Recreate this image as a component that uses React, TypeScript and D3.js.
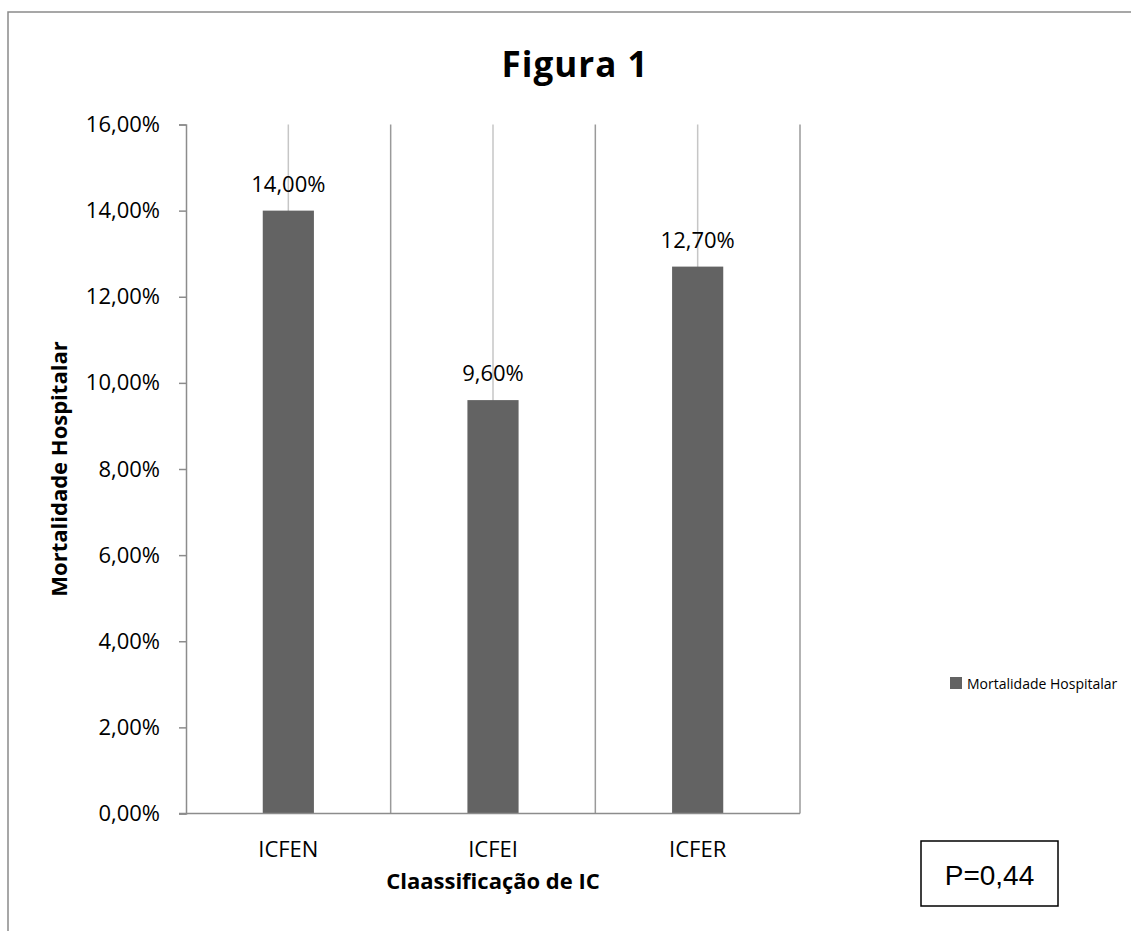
import React, { useEffect, useRef } from "react";
import * as d3 from "d3";

const categories = ["ICFEN", "ICFEI", "ICFER"];
const mortality = [0.14, 0.096, 0.127];
const yTicks = [0, 0.02, 0.04, 0.06, 0.08, 0.1, 0.12, 0.14, 0.16];
const seriesName = "Mortalidade Hospitalar";
const pValue = "P=0,44";

const fmt = (v: number) => (v * 100).toFixed(2).replace(".", ",") + "%";

export default function App() {
  const svgRef = useRef<SVGSVGElement>(null);

  useEffect(() => {
    if (!svgRef.current) return;
    const svg = d3.select(svgRef.current);
    svg.selectAll("*").remove();

    const width = 1131;
    const height = 931;
    const margin = { top: 124.5, right: 331, bottom: 117.5, left: 186 };
    const font = "'Open Sans', Lato, sans-serif";

    // outer chart frame (clipped at right/bottom like the source)
    svg.append("rect")
      .attr("x", 8).attr("y", 12)
      .attr("width", width + 20).attr("height", height + 20)
      .attr("fill", "#fff")
      .attr("stroke", "#8a8a8a")
      .attr("stroke-width", 1.5);

    const x = d3.scaleBand()
      .domain(categories)
      .range([margin.left, width - margin.right])
      .paddingInner(0)
      .paddingOuter(0);

    const y = d3.scaleLinear()
      .domain([0, 0.16])
      .range([height - margin.bottom, margin.top]);

    // title
    svg.append("text")
      .attr("x", 575).attr("y", 77)
      .attr("text-anchor", "middle")
      .attr("font-family", font)
      .attr("font-size", "35px")
      .attr("font-weight", "bold")
      .attr("letter-spacing", "1px")
      .attr("fill", "#000")
      .text("Figura 1");

    // light lines through category centers
    svg.selectAll(".center-line")
      .data(categories)
      .enter()
      .append("line")
      .attr("x1", d => x(d)! + x.bandwidth() / 2)
      .attr("x2", d => x(d)! + x.bandwidth() / 2)
      .attr("y1", y(0.16))
      .attr("y2", y(0))
      .attr("stroke", "#c6c6c6")
      .attr("stroke-width", 1.5);

    // category boundary gridlines
    svg.selectAll(".grid-line")
      .data(categories)
      .enter()
      .append("line")
      .attr("x1", d => x(d)! + x.bandwidth())
      .attr("x2", d => x(d)! + x.bandwidth())
      .attr("y1", y(0.16))
      .attr("y2", y(0))
      .attr("stroke", "#9a9a9a")
      .attr("stroke-width", 1.5);

    // bars
    const barW = x.bandwidth() * 0.25;
    svg.selectAll(".bar")
      .data(mortality)
      .enter()
      .append("rect")
      .attr("x", (d, i) => x(categories[i])! + (x.bandwidth() - barW) / 2)
      .attr("y", d => y(d))
      .attr("width", barW)
      .attr("height", d => y(0) - y(d))
      .attr("fill", "#636363");

    // data labels
    svg.selectAll(".label")
      .data(mortality)
      .enter()
      .append("text")
      .attr("x", (d, i) => x(categories[i])! + x.bandwidth() / 2)
      .attr("y", d => y(d) - 19)
      .attr("text-anchor", "middle")
      .attr("font-family", font)
      .attr("font-size", "22px")
      .attr("fill", "#000")
      .text(d => fmt(d));

    // y axis
    const yAxis = svg.append("g")
      .attr("transform", `translate(${margin.left},0)`)
      .call(d3.axisLeft(y).tickValues(yTicks).tickSize(7).tickPadding(19).tickFormat(d => fmt(d as number)));
    yAxis.select(".domain").attr("stroke", "#8c8c8c").attr("stroke-width", 1.5);
    yAxis.selectAll(".tick line").attr("stroke", "#8c8c8c").attr("stroke-width", 1.5);
    yAxis.selectAll(".tick text")
      .attr("font-family", font)
      .attr("font-size", "22px")
      .attr("fill", "#000");

    // x baseline
    svg.append("line")
      .attr("x1", margin.left - 7).attr("x2", width - margin.right)
      .attr("y1", y(0)).attr("y2", y(0))
      .attr("stroke", "#8c8c8c")
      .attr("stroke-width", 1.5);

    // x labels
    svg.selectAll(".xlabel")
      .data(categories)
      .enter()
      .append("text")
      .attr("x", d => x(d)! + x.bandwidth() / 2)
      .attr("y", 857)
      .attr("text-anchor", "middle")
      .attr("font-family", font)
      .attr("font-size", "22px")
      .attr("fill", "#000")
      .text(d => d);

    // axis titles
    svg.append("text")
      .attr("x", (margin.left + width - margin.right) / 2)
      .attr("y", 889)
      .attr("text-anchor", "middle")
      .attr("font-family", font)
      .attr("font-size", "22px")
      .attr("font-weight", "bold")
      .attr("fill", "#000")
      .text("Claassificação de IC");

    svg.append("text")
      .attr("transform", `translate(67,${(y(0) + y(0.16)) / 2}) rotate(-90)`)
      .attr("text-anchor", "middle")
      .attr("font-family", font)
      .attr("font-size", "22px")
      .attr("font-weight", "bold")
      .attr("fill", "#000")
      .text("Mortalidade Hospitalar");

    // legend
    svg.append("rect")
      .attr("x", 950).attr("y", 677)
      .attr("width", 12).attr("height", 12)
      .attr("fill", "#636363");
    svg.append("text")
      .attr("x", 967).attr("y", 688.5)
      .attr("font-family", font)
      .attr("font-size", "14px")
      .attr("fill", "#000")
      .text(seriesName);

    // p-value box
    svg.append("rect")
      .attr("x", 921).attr("y", 841)
      .attr("width", 137).attr("height", 65)
      .attr("fill", "#fff")
      .attr("stroke", "#000")
      .attr("stroke-width", 1.5);
    svg.append("text")
      .attr("x", 989.5).attr("y", 885)
      .attr("text-anchor", "middle")
      .attr("font-family", "'Liberation Sans', Arial, sans-serif")
      .attr("font-size", "28px")
      .attr("fill", "#000")
      .text(pValue);
  }, []);

  return (
    <div style={{ position: "absolute", left: 0, top: 0, width: 1131, height: 931, overflow: "hidden" }}>
      <svg ref={svgRef} width={1131} height={931} viewBox="0 0 1131 931" style={{ display: "block" }} />
    </div>
  );
}
